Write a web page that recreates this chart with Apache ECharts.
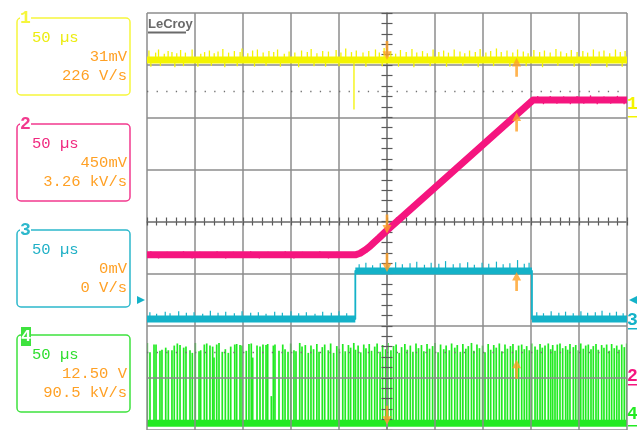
<!DOCTYPE html>
<html><head><meta charset="utf-8">
<script src="https://cdn.jsdelivr.net/npm/echarts@6/dist/echarts.min.js"></script>
<style>html,body{margin:0;padding:0;background:#fff}#c{width:637px;height:430px}</style>
</head><body><div id="c"></div>
<script>
// ---- Data (time in µs, amplitude in screen divisions) ----
const timeRange = [-250, 250];   // 10 div x 50 µs
const divRange = [-4, 4];        // 8 vertical divisions
const refLevels = [2.5, -2.5];   // dotted graticule rows

// Channel 1 (yellow)
const ch1T = [-250, 250];
const ch1V = [3.1, 3.1];
const ch1Spikes = [[-248,3.28],[-241,3.24],[-238,3.3],[-232,3.22],[-228,3.27],[-224,3.25],[-219,3.23],[-215,3.29],[-210,3.24],[-203,3.3],[-194,3.22],[-190,3.25],[-185,3.28],[-180,3.23],[-176,3.26],[-171,3.31],[-165,3.24],[-159,3.27],[-153,3.25],[-151,3.32],[-145,3.23],[-140,3.28],[-135,3.3],[-129,3.24],[-123,3.27],[-118,3.25],[-114,3.3],[-107,3.22],[-102,3.26],[-96,3.24],[-89,3.28],[-83,3.25],[-79,3.31],[-73,3.23],[-67,3.27],[-61,3.26],[-53,3.29],[-48,3.24],[-43,3.32],[-37,3.25],[-32,3.28],[-25,3.24],[-19,3.27],[-12,3.3],[-8,3.24],[-3,3.33],[4,3.26],[9,3.22],[14,3.29],[20,3.25],[26,3.31],[31,3.24],[37,3.27],[42,3.23],[48,3.3],[54,3.25],[59,3.28],[64,3.24],[70,3.3],[76,3.26],[81,3.23],[86,3.28],[92,3.25],[97,3.31],[103,3.24],[108,3.27],[114,3.32],[119,3.25],[125,3.28],[131,3.24],[136,3.3],[142,3.26],[147,3.23],[153,3.29],[159,3.25],[164,3.28],[170,3.24],[176,3.31],[181,3.26],[187,3.23],[192,3.29],[198,3.25],[204,3.27],[209,3.24],[215,3.3],[221,3.26],[226,3.28],[232,3.23],[238,3.3],[243,3.25],[248,3.27],
  [-246,2.97],[-236,2.98],[-221,2.96],[-212,2.98],[-197,2.97],[-183,2.99],[-169,2.96],[-156,2.98],[-138,2.97],[-126,2.99],[-111,2.97],[-92,2.96],[-76,2.98],[-64,2.97],[-50,2.98],[-34.4,2.15],[-22,2.97],[-5,2.98],[12,2.97],[28,2.96],[45,2.98],[62,2.97],[79,2.99],[95,2.96],[111,2.98],[128,2.97],[145,2.98],[162,2.96],[178,2.99],[195,2.97],[212,2.98],[229,2.96],[245,2.97]];

// Channel 2 (magenta)
const ch2T = [-250, -33, -28, -23, -18, -14, -8, 0, 152, 250];
const ch2V = [-0.64, -0.64, -0.61, -0.55, -0.48, -0.41, -0.31, -0.17, 2.33, 2.33];
const ch2SpikesLow = [[-246,-0.57],[-238,-0.71],[-229,-0.58],[-221,-0.7],[-212,-0.57],[-203,-0.71],[-195,-0.58],[-186,-0.7],[-177,-0.57],[-168,-0.71],[-160,-0.58],[-151,-0.7],[-142,-0.57],[-133,-0.71],[-124,-0.58],[-115,-0.7],[-106,-0.57],[-97,-0.71],[-88,-0.58],[-79,-0.7],[-70,-0.57],[-61,-0.71],[-52,-0.58],[-43,-0.7]];
const ch2SpikesHigh = [[157,2.41],[163,2.25],[170,2.41],[177,2.26],[184,2.4],[191,2.25],[198,2.41],[205,2.26],[212,2.42],[219,2.25],[226,2.4],[233,2.26],[240,2.41],[247,2.25]];

// Channel 3 (cyan)
const ch3T = [-250, -33, -33, 151, 151, 250];
const ch3V = [-1.87, -1.87, -0.95, -0.95, -1.87, -1.87];
const ch3SpikesLow = [[-247,-1.74],[-240,-1.77],[-231,-1.73],[-226,-1.76],[-217,-1.72],[-209,-1.75],[-201,-1.74],[-192,-1.77],[-184,-1.71],[-176,-1.75],[-168,-1.73],[-159,-1.76],[-151,-1.72],[-142,-1.75],[-134,-1.74],[-126,-1.77],[-117,-1.73],[-109,-1.75],[-100,-1.72],[-92,-1.76],[-84,-1.74],[-75,-1.77],[-67,-1.73],[-58,-1.75],[-50,-1.72],[-42,-1.76],[156,-1.74],[163,-1.76],[171,-1.72],[179,-1.75],[186,-1.73],[194,-1.76],[202,-1.72],[209,-1.75],[217,-1.74],[224,-1.71],[232,-1.75],[239,-1.73],[246,-1.76]];
const ch3SpikesHigh = [[-29,-0.82],[-22,-0.79],[-15,-0.84],[-7,-0.8],[1,-0.83],[9,-0.78],[16,-0.82],[24,-0.8],[31,-0.77],[39,-0.83],[46,-0.79],[54,-0.81],[61,-0.76],[69,-0.82],[76,-0.8],[84,-0.78],[91,-0.83],[99,-0.79],[106,-0.81],[114,-0.77],[121,-0.82],[128,-0.8],[136,-0.74],[143,-0.81],[148,-0.79]];

// Channel 4 (green)
const ch4T = [-250, 250];
const ch4V = [-3.87, -3.87];
const ch4Spikes = [[-249.7,-2.33],[-246.9,-2.51],[-242.7,-2.36],[-240.6,-2.36],[-236.5,-2.48],[-234.4,-2.46],[-230.5,-2.42],[-227.8,-2.47],[-224,-2.47],[-221.6,-2.38],[-218.4,-2.34],[-215.6,-2.37],[-211.8,-2.42],[-209.4,-2.4],[-205.2,-2.47],[-202.8,-2.52],[-199.7,-2.33],[-195.8,-2.49],[-194.1,-2.47],[-190.3,-2.36],[-187.8,-2.34],[-184.4,-2.38],[-181.6,-2.4],[-180.2,-2.61],[-177.4,-2.36],[-175,-2.33],[-171.6,-2.5],[-168.4,-2.45],[-165.3,-2.52],[-162.8,-2.4],[-158.6,-2.36],[-156.6,-2.35],[-153.1,-2.37],[-151,-2.38],[-146.6,-2.48],[-143.8,-2.35],[-141.4,-2.34],[-139.9,-2.61],[-135.4,-2.38],[-132.3,-2.4],[-129.2,-2.36],[-126,-2.37],[-124.3,-2.35],[-120.5,-3.35],[-118.4,-2.38],[-116.7,-2.36],[-112.5,-2.48],[-108.6,-2.36],[-106.2,-2.45],[-103.1,-2.5],[-100.3,-2.34],[-96.9,-2.47],[-94.8,-2.49],[-90.9,-2.33],[-88.5,-2.4],[-85.1,-2.37],[-82,-2.52],
  [-79.2,-2.38],[-76.5,-2.45],[-73.1,-2.35],[-70.8,-2.5],[-67.4,-2.41],[-64.9,-2.36],[-61.2,-2.47],[-58.7,-2.34],[-55.6,-2.52],[-52.3,-2.39],[-49.8,-2.44],[-46.1,-2.35],[-43.5,-2.49],[-40.2,-2.37],[-37.9,-2.42],[-34.6,-2.33],[-32.8,-2.46],[-30.1,-2.38],[-27.4,-2.51],[-24.2,-2.36],[-21.9,-2.43],[-18.5,-2.35],[-16.1,-2.48],[-12.8,-2.4],[-10.3,-2.34],[-7.2,-2.5],[-4.6,-2.37],[-1.4,-2.45],[0.9,-2.33],[4.1,-2.47],[6.8,-2.39],[9.5,-2.36],[12.7,-2.52],[15.2,-2.41],[18.6,-2.35],[21.1,-2.46],[24.3,-2.38],[27,-2.5],[30.2,-2.34],[32.8,-2.43],[35.9,-2.37],[38.4,-2.49],[41.7,-2.35],[44.3,-2.44],[47.5,-2.39],[50,-2.33],[53.2,-2.51],[55.8,-2.36],[59.1,-2.45],[61.6,-2.38],[64.9,-2.47],[67.3,-2.34],[70.6,-2.42],[73.2,-2.37],[76.4,-2.5],[79,-2.35],[82.1,-2.44],[84.7,-2.39],[88,-2.33],[90.5,-2.48],[93.7,-2.36],[96.3,-2.43],[99.6,-2.38],[102.1,-2.51],[105.4,-2.35],[108,-2.46],[111.2,-2.37],[113.8,-2.42],[117,-2.34],[119.6,-2.49],[122.9,-2.36],[125.4,-2.44],[128.6,-2.39],[131.2,-2.35],[134.5,-2.47],[137.1,-2.38],
  [140.3,-2.36],[143,-2.45],[145.5,-2.39],[148.2,-2.47],[150.7,-2.34],[154.2,-2.4],[156.6,-2.46],[159.4,-2.35],[161.8,-2.42],[164.6,-2.38],[168,-2.34],[170.5,-2.45],[172.6,-2.37],[175,-2.48],[177.4,-2.36],[180.2,-2.34],[183,-2.43],[186.1,-2.39],[188.2,-2.46],[190.6,-2.35],[194.1,-2.41],[196.6,-2.37],[199.3,-2.47],[201.8,-2.34],[204.5,-2.44],[207,-2.38],[209.7,-2.36],[212.5,-2.45],[214.9,-2.39],[217.7,-2.35],[220.1,-2.46],[223.6,-2.37],[226,-2.42],[228.8,-2.36],[231.5,-2.48],[234,-2.35],[236.7,-2.43],[239.3,-2.38],[241.7,-2.46],[244.5,-2.36],[247.2,-2.41],[249.7,-2.34]];

// Cursor arrows (time, level)
const cursorDown = [[0,3.1],[0,-0.23],[0,-0.97],[0,-3.9]];
const cursorUp = [[135,3.14],[135,2.09],[135,-0.97],[135,-2.65]];

// Channel info boxes
const chNames = ['1','2','3','4'];
const chTimebase = ['50 µs','50 µs','50 µs','50 µs'];
const chScale = ['31mV','450mV','0mV','12.50 V'];
const chRate = ['226 V/s','3.26 kV/s','0 V/s','90.5 kV/s'];

// ---- Styles ----
const C = {
  y: '#f4f400', yBox: '#f6f63c', yTxt: '#ecec10',
  m: '#f5157f', mBox: '#f23a8e', mTxt: '#f0287f',
  c: '#14b2c8', cBox: '#2db8cc', cTxt: '#1fb0c6',
  g: '#22ea22', gBox: '#3ee23e', gTxt: '#2ede2e',
  orange: '#ffa024', grid: '#8c8c8c', tick: '#5a5a5a'
};
const boxColors = [C.yBox, C.mBox, C.cBox, C.gBox];
const txtColors = [C.yTxt, C.mTxt, C.cTxt, C.gTxt];
const boxTops = [18, 124, 230, 335];
const monoFont = '15.5px "Liberation Mono"';

const zip = (a, b) => a.map((v, i) => [v, b[i]]);
// keep only the flat (constant-level) parts of a step trace, broken between parts
function flatParts(t, v) {
  const out = [];
  for (let i = 0; i < t.length - 1; i++) {
    if (v[i] === v[i + 1]) { out.push([t[i], v[i]], [t[i + 1], v[i + 1]], [t[i + 1], '-']); }
  }
  return out;
}

function spikeSeries(pairs, base, color, width, z) {
  return {
    type: 'custom', silent: true, z: z, clip: true,
    xAxisIndex: 0, yAxisIndex: 0,
    data: pairs.map(p => [p[0], base, p[1]]),
    encode: {x: 0, y: [1, 2]},
    renderItem: function (params, api) {
      const a = api.coord([api.value(0), api.value(1)]);
      const b = api.coord([api.value(0), api.value(2)]);
      return {type: 'line', shape: {x1: a[0], y1: a[1], x2: b[0], y2: b[1]},
        style: {stroke: color, lineWidth: width}};
    }
  };
}

function lineSeries(data, color, width, z) {
  return {type: 'line', data: data, symbol: 'none', silent: true, z: z, connectNulls: false,
    xAxisIndex: 0, yAxisIndex: 0, animation: false,
    lineStyle: {color: color, width: width, cap: 'butt', join: 'round'}};
}

function centerAxis(inside, main, len) {
  return {
    type: 'value', z: 3,
    axisLabel: {show: false},
    splitLine: {show: main, lineStyle: {color: C.grid, width: 1.5}},
    axisLine: {show: true, onZero: true, onZeroAxisIndex: 0, lineStyle: {color: C.grid, width: 1.5}},
    axisTick: {show: true, inside: inside, length: len, lineStyle: {color: C.tick, width: 1.2}},
    minorTick: {show: true, splitNumber: 5, length: len, lineStyle: {color: C.tick, width: 1.2}}
  };
}
const xAxes = [centerAxis(true, true, 4), centerAxis(false, false, 4)].map(a => Object.assign(a, {min: timeRange[0], max: timeRange[1], interval: 50, position: 'bottom'}));
const yAxes = [centerAxis(true, true, 5.5), centerAxis(false, false, 5.5)].map(a => Object.assign(a, {min: divRange[0], max: divRange[1], interval: 1, position: 'left'}));

// ---- Graphic overlay (info boxes, markers, logo) ----
const graphics = [];
boxTops.forEach((top, i) => {
  graphics.push({type: 'rect', shape: {x: 17, y: top, width: 113, height: 77, r: 4},
    style: {fill: 'none', stroke: boxColors[i], lineWidth: 1.5}});
  if (i === 3) {
    graphics.push({type: 'rect', shape: {x: 21, y: top - 8, width: 10, height: 19}, style: {fill: C.gBox}});
    graphics.push({type: 'text', x: 26, y: top + 1.5, style: {text: chNames[i], fill: '#ffffff', font: 'bold 17px "Liberation Mono"', align: 'center', verticalAlign: 'middle'}});
  } else {
    graphics.push({type: 'rect', shape: {x: 20, y: top - 7, width: 11, height: 14}, style: {fill: '#ffffff'}});
    graphics.push({type: 'text', x: 25.5, y: top + 0.5, style: {text: chNames[i], fill: boxColors[i], font: 'bold 18px "Liberation Mono"', align: 'center', verticalAlign: 'middle'}});
  }
  graphics.push({type: 'text', x: 32, y: top + 20, style: {text: chTimebase[i], fill: txtColors[i], font: monoFont, align: 'left', verticalAlign: 'middle'}});
  graphics.push({type: 'text', x: 127, y: top + 38.5, style: {text: chScale[i], fill: C.orange, font: monoFont, align: 'right', verticalAlign: 'middle'}});
  graphics.push({type: 'text', x: 127, y: top + 57.5, style: {text: chRate[i], fill: C.orange, font: monoFont, align: 'right', verticalAlign: 'middle'}});
});
// right-hand channel markers
[[104, 116, C.y, '1'], [376, 384, C.m, '2'], [320, 328, C.c, '3'], [414, 425, C.g, '4']].forEach(m => {
  graphics.push({type: 'text', x: 632.5, y: m[0], style: {text: m[3], fill: m[2], font: 'bold 18px "Liberation Mono"', align: 'center', verticalAlign: 'middle'}});
  graphics.push({type: 'rect', shape: {x: 628, y: m[1], width: 9, height: 1.5}, style: {fill: m[2]}});
});
// trigger level triangles
graphics.push({type: 'polygon', shape: {points: [[137, 296], [137, 304], [145, 300]]}, style: {fill: C.c}});
graphics.push({type: 'polygon', shape: {points: [[637, 296], [637, 304], [629, 300]]}, style: {fill: C.c}});
// logo
graphics.push({type: 'text', x: 148, y: 24.5, style: {text: 'LeCroy', fill: '#6a6a6a', font: 'bold 13px "Liberation Sans"', align: 'left', verticalAlign: 'middle'}});
graphics.push({type: 'rect', shape: {x: 148, y: 31.5, width: 38, height: 2}, style: {fill: '#6a6a6a'}});

const arrowDown = 'path://M3.5,0L6.5,0L6.5,11L10,11L5,20L0,11L3.5,11Z';
const arrowUp = 'path://M5,0L10,9L6.5,9L6.5,20L3.5,20L3.5,9L0,9Z';

const chart = echarts.init(document.getElementById('c'), null, {renderer: 'canvas'});
chart.setOption({
  animation: false,
  backgroundColor: '#ffffff',
  grid: {left: 147, top: 13, width: 480, height: 420, containLabel: false},
  xAxis: xAxes,
  yAxis: yAxes,
  series: [
    lineSeries(zip(ch4T, ch4V), C.g, 7, 2),
    spikeSeries(ch4Spikes, ch4V[0], C.g, 1.7, 2),
    lineSeries(zip(ch3T, ch3V), C.c, 1.8, 5),
    lineSeries(flatParts(ch3T, ch3V), C.c, 7, 5),
    spikeSeries(ch3SpikesLow, ch3V[0], C.c, 1.2, 5),
    spikeSeries(ch3SpikesHigh, ch3V[2], C.c, 1.2, 5),
    lineSeries(zip(ch2T, ch2V), C.m, 7, 6),
    spikeSeries(ch2SpikesLow, ch2V[0], C.m, 1.3, 6),
    spikeSeries(ch2SpikesHigh, ch2V[ch2V.length - 1], C.m, 1.3, 6),
    lineSeries(zip(ch1T, ch1V), C.y, 7, 7),
    spikeSeries(ch1Spikes, ch1V[0], C.y, 1.3, 7),
    {type: 'line', data: [], z: 8, silent: true,
      markLine: {silent: true, symbol: 'none', label: {show: false},
        lineStyle: {color: '#707070', width: 1.3, type: [1.3, 8.3]},
        data: refLevels.map(v => ({yAxis: v}))}},
    {type: 'scatter', data: cursorDown, symbol: arrowDown, symbolSize: [9, 19], symbolOffset: [0, -9.5],
      itemStyle: {color: C.orange}, z: 9, silent: true},
    {type: 'scatter', data: cursorUp, symbol: arrowUp, symbolSize: [9, 19], symbolOffset: [0, 9.5],
      itemStyle: {color: C.orange}, z: 9, silent: true}
  ],
  graphic: graphics
});
</script></body></html>
